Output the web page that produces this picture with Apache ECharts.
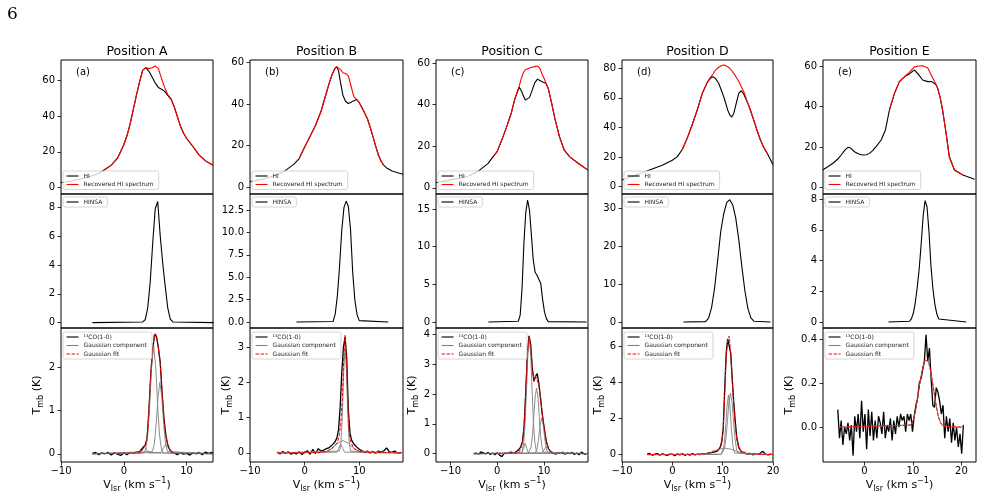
<!DOCTYPE html>
<html>
<head>
<meta charset="utf-8">
<script src="https://cdn.jsdelivr.net/npm/echarts@6/dist/echarts.min.js"></script>
<style>
  html, body { margin: 0; padding: 0; background: #fff; }
  #chart { width: 984px; height: 498px; }
</style>
</head>
<body>
<div id="chart"></div>
<script>
// ---- HI and recovered HI (top row) ----
const vHiA = [-10, -8, -6, -4, -3, -2, -1, 0, 0.5, 1, 1.5, 2, 2.5, 3, 3.5, 4, 4.5, 5, 5.5, 6, 6.5, 7, 7.5, 8, 8.5, 9, 9.5, 10, 11, 12, 13, 14.2];
const hiA = [2.8, 4.0, 5.6, 7.9, 10.2, 12.6, 16.5, 24, 29, 35.5, 43.4, 51.5, 59, 65.5, 67, 65, 61.8, 58.5, 56, 55, 53.8, 51.5, 49.5, 45.5, 40, 34.5, 30.5, 27.5, 23, 18.2, 15, 12.5];
const recA = [null, null, null, null, 10.2, 12.6, 16.5, 24, 29, 35.5, 43.4, 51.5, 59, 65.5, 67, 66.5, 67, 68, 66.5, 61, 56, 52, 49.8, 45.5, 40, 34.5, 30.5, 27.5, 23, 18.2, 15, 12.5];

const vHiB = [-10, -8, -6, -4, -2, -1, 0, 1, 2, 3, 4, 4.5, 5, 5.5, 5.85, 6.2, 6.6, 7, 7.5, 8, 8.5, 9, 9.5, 10, 10.5, 11, 11.5, 12, 12.5, 13, 13.5, 14, 14.5, 15, 16, 17, 18];
const hiB = [2.7, 3.8, 5.2, 7.2, 11.0, 13.8, 19.3, 24.5, 29.8, 36.5, 45.5, 50, 54, 56.8, 57.9, 56, 49.8, 44.2, 41.2, 40.2, 40.8, 41.6, 42.2, 40.6, 38.2, 35.6, 32.8, 28.8, 24.3, 19.8, 15.5, 12.5, 10.5, 9.3, 7.8, 7.0, 6.3];
const recB = [null, null, null, null, null, 13.8, 19.3, 24.5, 29.8, 36.5, 45.5, 50, 54, 56.8, 57.9, 57.2, 56.5, 55, 54.6, 53.5, 48.5, 43.5, 42.2, 40.6, 38.2, 35.6, 32.8, 28.8, 24.3, 19.8, 15.5, 12.5, 10.5, null, null, null, null];

const vHiC = [-13.1, -10, -8, -6, -4, -2, -1, 0, 1, 2, 3, 3.8, 4.7, 5.2, 5.6, 6, 6.4, 6.9, 7.4, 8, 8.6, 9.1, 9.6, 10, 10.4, 10.9, 11.6, 12.3, 13.3, 14.3, 15.5, 17.3, 19.4];
const hiC = [2.4, 3.8, 4.6, 5.8, 8.1, 11.6, 14.6, 17.5, 23.2, 29.3, 36, 43.1, 48.4, 46.5, 44.2, 42.2, 41.8, 43.5, 46.5, 50.5, 52.3, 51.6, 51.0, 50.5, 50.3, 47.8, 41, 33.5, 24.6, 18.2, 14.9, 11.8, 8.5];
const recC = [null, null, null, null, null, null, 14.6, 17.5, 23.2, 29.3, 36, 43.1, 49, 53, 55.5, 56.8, 57.3, 57.7, 58, 58.3, 58.6, 57.6, 54.5, 52.7, 50.5, 47.8, 41, 33.5, 24.6, 18.2, 14.9, 11.8, 8.5];

const vHiD = [-10, -8, -6, -4, -2, 0, 1, 2, 3, 4, 5, 6, 7, 7.6, 8.1, 8.6, 9.2, 9.7, 10.2, 10.6, 11, 11.4, 11.8, 12.2, 12.6, 13.2, 13.7, 14.2, 15, 15.5, 16.2, 16.8, 17.5, 18.1, 19, 20];
const hiD = [4.5, 6.8, 9.3, 11.9, 14.4, 17.8, 20.3, 25.3, 33.1, 42.3, 52.3, 63.5, 70.8, 73.4, 74.3, 73, 69.9, 65.5, 60.8, 56.5, 51.8, 48.5, 47, 49.5, 55, 63.1, 64.8, 62.5, 56.3, 51.8, 44.7, 38.3, 31.5, 27, 21.5, 14.7];
const recD = [null, null, null, null, null, null, null, 25.3, 33.1, 42.3, 52.3, 63.5, 70.8, 74, 76.3, 78.8, 80.7, 81.7, 82.2, 81.8, 81, 80, 78.5, 76.6, 74.5, 71, 67.5, 64.2, 56.3, 51.8, 44.7, 38.3, 31.5, 27, 21.5, null];

const vHiE = [-8.6, -7.5, -6.5, -5.5, -4.8, -4, -3.4, -2.8, -2.06, -1.2, -0.34, 0.4, 1.03, 1.7, 2.4, 3.44, 4.33, 5.15, 6.19, 7.2, 8.45, 9.28, 10.3, 11.2, 12.0, 13.05, 13.9, 14.8, 15.1, 15.6, 16.1, 16.84, 17.5, 18.55, 20.3, 22.7];
const hiE = [8.6, 10.3, 11.9, 14.0, 16.0, 18.5, 19.8, 19.3, 17.6, 16.5, 16.0, 16.1, 16.8, 18.2, 20.1, 23.4, 28.4, 38.3, 46.5, 52.3, 55.1, 56.1, 58.1, 55.6, 53.1, 52.3, 52.3, 50.6, 49, 44.5, 38.3, 26.7, 15.1, 8.6, 6.1, 4.0];
const recE = [null, null, null, null, null, null, null, null, null, null, null, null, null, null, null, null, null, 38.3, 46.5, 52.3, 55.1, 57, 59.6, 60, 60.1, 59, 55, 50.6, 49, 44.5, 38.3, 26.7, 15.1, 8.6, 6.1, null];

// ---- HINSA (middle row) ----
const vHinsaA = [-5, 3.0, 3.4, 3.8, 4.2, 4.6, 5.0, 5.4, 5.8, 6.2, 6.6, 7.0, 7.4, 7.8, 14.3];
const hinsaA = [0, 0.05, 0.2, 1.0, 2.8, 5.5, 7.9, 8.4, 6.0, 4.1, 2.5, 1.0, 0.25, 0.05, 0];
const vHinsaB = [-1.5, 5.2, 5.6, 6.0, 6.4, 6.8, 7.2, 7.6, 8.0, 8.4, 8.8, 9.2, 9.6, 10.0, 15.3];
const hinsaB = [0, 0.05, 0.9, 3.0, 6.3, 10.3, 12.8, 13.5, 12.9, 10.3, 5.5, 2.4, 0.8, 0.15, 0];
const vHinsaC = [-1.9, 4.5, 4.9, 5.3, 5.7, 6.1, 6.5, 6.9, 7.3, 7.7, 8.1, 8.5, 8.9, 9.3, 9.7, 10.1, 10.5, 10.9, 19.1];
const hinsaC = [0, 0.1, 0.9, 4.5, 10.5, 14.6, 16.2, 14.8, 11.5, 8.2, 6.6, 6.2, 6.0, 5.1, 3.0, 1.3, 0.45, 0.05, 0];
const vHinsaD = [2.2, 6.6, 7.2, 7.8, 8.4, 9.0, 9.6, 10.2, 10.8, 11.4, 12.0, 12.6, 13.2, 13.8, 14.4, 15.0, 15.6, 16.2, 19.5];
const hinsaD = [0, 0.1, 1.0, 3.8, 9.0, 16.2, 23.8, 28.6, 31.6, 32.4, 31.0, 27.5, 21.8, 14.8, 8.4, 3.6, 1.1, 0.2, 0];
const vHinsaE = [4.95, 9.3, 9.7, 10.1, 10.5, 10.9, 11.3, 11.7, 12.1, 12.5, 12.9, 13.3, 13.7, 14.1, 14.5, 14.9, 15.3, 21];
const hinsaE = [0, 0.05, 0.22, 0.6, 1.3, 2.3, 3.5, 5.1, 6.9, 7.9, 7.5, 5.9, 3.7, 2.2, 1.2, 0.55, 0.2, 0];

// ---- 13CO(1-0), Gaussian components and fits (bottom row) ----
const vCoA = [-5, -4.5, -4, -3.5, -3, -2.5, -2, -1.5, -1, -0.5, 0, 0.5, 1, 1.5, 2, 2.5, 2.8, 3.1, 3.4, 3.7, 4.0, 4.3, 4.6, 4.9, 5.2, 5.5, 5.8, 6.1, 6.4, 6.7, 7.0, 7.3, 7.6, 8.0, 8.5, 9, 9.5, 10, 10.5, 11, 11.5, 12, 12.5, 13, 13.5, 14, 14.3];
const coA = [0.01, 0.03, -0.02, 0.02, 0.0, 0.03, -0.03, 0.02, -0.01, -0.04, 0.02, -0.02, 0.03, 0.01, 0.04, 0.05, 0.06, 0.15, 0.2, 0.35, 1.0, 1.85, 2.4, 2.75, 2.7, 2.45, 2.1, 1.4, 0.8, 0.42, 0.2, 0.1, 0.05, 0.02, -0.02, 0.02, -0.01, 0.01, -0.03, 0.02, 0.0, 0.03, -0.02, 0.04, 0.01, 0.03, 0.0];
const gA1v = [-5, 3.2, 3.5, 3.8, 4.1, 4.4, 4.75, 5.1, 5.4, 5.7, 6.0, 6.3, 14.3];
const gA1 = [0, 0.02, 0.11, 0.41, 1.07, 1.96, 2.5, 1.96, 1.07, 0.41, 0.11, 0.02, 0];
const gA2v = [-5, 4.55, 4.85, 5.15, 5.45, 5.75, 6.05, 6.35, 6.65, 6.95, 14.3];
const gA2 = [0, 0.05, 0.22, 0.68, 1.32, 1.65, 1.32, 0.68, 0.22, 0.05, 0];
const gA3v = [-5, 2.6, 2.95, 3.3, 3.65, 4.0, 14.3];
const gA3 = [0, 0.02, 0.09, 0.15, 0.09, 0.02, 0];
const gA4v = [-5, 5.9, 6.3, 6.7, 7.1, 7.5, 14.3];
const gA4 = [0, 0.03, 0.13, 0.22, 0.13, 0.03, 0];
const vFitA = [-5, 2.6, 2.95, 3.3, 3.6, 3.9, 4.2, 4.5, 4.85, 5.0, 5.2, 5.5, 5.8, 6.1, 6.4, 6.7, 7.1, 7.5, 8.0, 14.3];
const fitA = [0, 0.02, 0.09, 0.17, 0.25, 0.7, 1.6, 2.3, 2.72, 2.78, 2.72, 2.46, 2.07, 1.4, 0.77, 0.4, 0.15, 0.04, 0.01, 0];

const vCoB = [-5, -4.5, -4, -3.5, -3, -2.5, -2, -1.5, -1, -0.5, 0, 0.5, 1, 1.5, 2, 2.5, 3, 3.5, 4, 4.5, 5, 5.5, 5.9, 6.2, 6.5, 6.8, 7.1, 7.4, 7.7, 8.0, 8.3, 8.6, 9.0, 9.5, 10, 10.5, 11, 11.5, 12, 12.5, 13, 13.5, 14, 14.5, 15, 15.5, 16, 16.5, 17, 17.7];
const coB = [0.02, -0.03, 0.04, -0.02, 0.03, -0.04, 0.0, -0.03, 0.03, -0.05, 0.02, 0.06, -0.04, 0.1, -0.02, 0.12, 0.05, 0.08, 0.12, 0.15, 0.22, 0.3, 0.42, 0.65, 1.3, 2.3, 3.0, 3.3, 2.7, 1.2, 0.55, 0.36, 0.25, 0.17, 0.1, 0.06, 0.03, 0.05, 0.0, 0.04, -0.01, 0.05, 0.02, 0.06, 0.14, 0.03, 0.02, 0.05, -0.01, 0.01];
const gB1v = [-5, 3, 4, 5, 6, 7, 8, 9, 10, 11, 17.7];
const gB1 = [0, 0.006, 0.035, 0.126, 0.27, 0.35, 0.27, 0.126, 0.035, 0.006, 0];
const gB2v = [-5, 6.4, 6.65, 6.9, 7.15, 7.4, 7.65, 7.9, 8.15, 8.4, 17.7];
const gB2 = [0, 0.05, 0.3, 1.08, 2.32, 3.0, 2.32, 1.08, 0.3, 0.05, 0];
const gB3v = [-5, 5.9, 6.25, 6.6, 6.95, 7.3, 17.7];
const gB3 = [0, 0.02, 0.13, 0.25, 0.13, 0.02, 0];
const vFitB = [-5, 3, 4, 5, 5.5, 6, 6.3, 6.6, 6.9, 7.15, 7.4, 7.65, 7.9, 8.15, 8.4, 9, 10, 11, 17.7];
const fitB = [0, 0.01, 0.04, 0.13, 0.2, 0.3, 0.48, 0.81, 1.56, 2.72, 3.34, 2.65, 1.39, 0.59, 0.31, 0.13, 0.04, 0.01, 0];

const vCoC = [-5, -4.5, -4, -3.5, -3, -2.5, -2, -1.5, -1, -0.5, 0, 0.5, 1, 1.5, 2, 2.5, 3, 3.5, 4, 4.5, 5, 5.4, 5.75, 6.1, 6.45, 6.8, 7.15, 7.5, 7.85, 8.2, 8.55, 8.9, 9.25, 9.6, 10, 10.5, 11, 11.5, 12, 12.5, 13, 13.5, 14, 14.5, 15, 15.5, 16, 16.5, 17, 17.5, 18, 18.5, 19];
const coC = [0.0, 0.02, -0.02, 0.06, 0.03, -0.01, 0.04, -0.03, 0.02, -0.04, 0.03, -0.05, -0.1, 0.02, 0.0, 0.03, 0.05, 0.02, 0.06, 0.12, 0.22, 0.4, 0.95, 2.1, 3.4, 3.95, 3.65, 2.85, 2.42, 2.6, 2.68, 2.35, 1.85, 1.35, 0.9, 0.4, 0.15, 0.06, 0.02, -0.02, 0.04, 0.01, 0.05, -0.02, 0.03, 0.0, 0.04, -0.03, 0.02, -0.04, 0.05, 0.0, -0.03];
const gC1v = [-5, 5.05, 5.35, 5.65, 5.95, 6.25, 6.55, 6.85, 7.15, 7.45, 7.75, 8.05, 8.35, 8.65, 19.4];
const gC1 = [0, 0.02, 0.09, 0.36, 1.0, 2.12, 3.32, 3.85, 3.32, 2.12, 1.0, 0.36, 0.09, 0.02, 0];
const gC2v = [-5, 6.6, 6.9, 7.2, 7.5, 7.8, 8.1, 8.4, 8.7, 9.0, 9.3, 9.6, 9.9, 10.2, 19.4];
const gC2 = [0, 0.01, 0.05, 0.2, 0.57, 1.21, 1.9, 2.2, 1.9, 1.21, 0.57, 0.2, 0.05, 0.01, 0];
const gC3v = [-5, 5.25, 5.6, 5.95, 6.3, 6.65, 19.4];
const gC3 = [0, 0.02, 0.18, 0.35, 0.18, 0.02, 0];
const gC4v = [-5, 8.1, 8.45, 8.8, 9.15, 9.5, 9.85, 10.2, 10.55, 10.9, 19.4];
const gC4 = [0, 0.02, 0.13, 0.45, 0.94, 1.2, 0.94, 0.45, 0.13, 0.02, 0];
const gC5v = [-5, 9.3, 9.9, 10.5, 11.1, 11.7, 19.4];
const gC5 = [0, 0.01, 0.1, 0.25, 0.1, 0.01, 0];
const vFitC = [-5, 4.5, 5.0, 5.4, 5.75, 6.1, 6.45, 6.8, 7.15, 7.5, 7.85, 8.2, 8.55, 8.9, 9.25, 9.6, 10.0, 10.5, 11.0, 11.5, 12, 19.4];
const fitC = [0, 0.02, 0.15, 0.4, 0.95, 2.1, 3.35, 3.92, 3.6, 2.85, 2.45, 2.6, 2.62, 2.3, 1.85, 1.35, 0.88, 0.4, 0.14, 0.04, 0.01, 0];

const vCoD = [-5, -4.5, -4, -3.5, -3, -2.5, -2, -1.5, -1, -0.5, 0, 0.5, 1, 1.5, 2, 2.5, 3, 3.5, 4, 4.5, 5, 5.5, 6, 6.5, 7, 7.5, 8, 8.5, 9, 9.5, 9.8, 10.1, 10.4, 10.7, 11, 11.3, 11.6, 11.9, 12.2, 12.5, 12.8, 13.2, 13.6, 14, 14.5, 15, 15.5, 16, 16.5, 17, 17.5, 18, 18.5, 19, 19.5, 20];
const coD = [0.03, 0.06, -0.04, 0.02, 0.05, -0.03, 0.04, 0.0, -0.05, 0.03, 0.02, -0.06, 0.04, -0.02, 0.05, -0.04, 0.02, -0.03, 0.06, -0.02, 0.03, 0.0, 0.05, 0.02, 0.06, 0.1, 0.12, 0.15, 0.2, 0.4, 0.7, 1.4, 3.6, 5.6, 6.4, 6.5, 5.6, 4.2, 2.9, 1.85, 0.95, 0.4, 0.2, 0.1, 0.05, 0.02, 0.06, -0.02, 0.04, 0.01, 0.08, 0.18, 0.03, -0.02, 0.03, 0.0];
const gD1v = [-5, 9.65, 9.95, 10.25, 10.55, 10.85, 11.15, 11.45, 11.75, 12.05, 12.35, 12.65, 20];
const gD1 = [0, 0.01, 0.09, 0.45, 1.35, 2.64, 3.3, 2.64, 1.35, 0.45, 0.09, 0.01, 0];
const gD2v = [-5, 9.75, 10.05, 10.35, 10.65, 10.95, 11.25, 11.55, 11.85, 12.15, 12.45, 12.75, 13.05, 13.35, 20];
const gD2 = [0, 0.02, 0.08, 0.32, 0.88, 1.87, 2.92, 3.4, 2.92, 1.87, 0.88, 0.32, 0.08, 0.02, 0];
const gD3v = [-5, 4.5, 5.5, 6.5, 7.5, 8.5, 9.5, 10.5, 11.5, 12.5, 13.5, 14.5, 15.5, 16.5, 20];
const gD3 = [0, 0.004, 0.015, 0.05, 0.11, 0.21, 0.31, 0.35, 0.31, 0.21, 0.11, 0.05, 0.015, 0.004, 0];
const vFitD = [-5, 5, 7, 8, 8.5, 9, 9.5, 9.8, 10.1, 10.4, 10.7, 11.0, 11.3, 11.6, 11.9, 12.2, 12.5, 12.8, 13.2, 13.6, 14, 15, 17, 20];
const fitD = [0, 0.01, 0.08, 0.17, 0.21, 0.26, 0.35, 0.6, 1.3, 3.3, 5.4, 6.35, 6.55, 5.6, 4.1, 2.7, 1.6, 0.85, 0.35, 0.2, 0.16, 0.08, 0.01, 0];

const vCoE = [-5.5, -5.15, -4.8, -4.45, -4.1, -3.75, -3.4, -3.05, -2.7, -2.35,
  -2.0, -1.65, -1.3, -0.95, -0.6, -0.25, 0.1, 0.45, 0.8, 1.15,
  1.5, 1.85, 2.2, 2.55, 2.9, 3.25, 3.6, 3.95, 4.3, 4.65,
  5.0, 5.35, 5.7, 6.05, 6.4, 6.75, 7.1, 7.45, 7.8, 8.15,
  8.5, 8.85, 9.2, 9.55, 9.9, 10.25, 10.6, 10.95, 11.3, 11.65,
  12.0, 12.35, 12.7, 13.05, 13.4, 13.75, 14.1, 14.45, 14.8, 15.15,
  15.5, 15.85, 16.2, 16.55, 16.9, 17.25, 17.6, 17.95, 18.3, 18.65,
  19.0, 19.35, 19.7, 20.05, 20.4];
const coE = [0.08, -0.05, 0.03, -0.08, 0.0, -0.03, 0.02, -0.06, 0.01, -0.13,
  0.05, -0.02, 0.06, -0.05, 0.12, -0.02, 0.06, -0.1, 0.08, -0.04,
  0.07, -0.06, 0.03, -0.05, 0.05, 0.02, -0.03, 0.07, -0.05, 0.01,
  -0.02, 0.04, -0.06, 0.03, -0.03, 0.05, 0.0, 0.06, 0.03, 0.05,
  -0.02, 0.06, 0.03, 0.06, -0.02, 0.05, 0.1, 0.13, 0.2, 0.22,
  0.26, 0.3, 0.42, 0.3, 0.36, 0.22, 0.1, 0.09, 0.18, 0.16,
  0.12, 0.06, 0.1, -0.05, 0.05, -0.02, 0.04, -0.07, 0.02, -0.06,
  0.0, -0.09, -0.03, -0.12, 0.01];
const vFitE = [-5.5, 9.5, 10, 10.5, 11, 11.5, 12, 12.5, 12.85, 13.2, 13.7, 14.2, 14.7, 15.2, 15.7, 16.2, 20.4];
const fitE = [0, 0.01, 0.03, 0.07, 0.14, 0.21, 0.27, 0.305, 0.31, 0.3, 0.25, 0.18, 0.11, 0.05, 0.02, 0.005, 0];

// ---- tick labels ----
const xTicks = [[-10, 0, 10], [-10, 0, 10], [-10, 0, 10], [-10, 0, 10, 20], [0, 10, 20]];
const yTicks = [
  [[0, 20, 40, 60], [0, 20, 40, 60], [0, 20, 40, 60], [0, 20, 40, 60, 80], [0, 20, 40, 60]],
  [[0, 2, 4, 6, 8], [0, 2.5, 5, 7.5, 10, 12.5], [0, 5, 10, 15], [0, 10, 20, 30], [0, 2, 4, 6, 8]],
  [[0, 1, 2], [0, 1, 2, 3], [0, 1, 2, 3, 4], [0, 2, 4, 6], [0, 0.2, 0.4]]
];
const titles = ['Position A', 'Position B', 'Position C', 'Position D', 'Position E'];
const tags = ['(a)', '(b)', '(c)', '(d)', '(e)'];

// ---- layout ----
const FONT = 'DejaVu Sans';
const colLeft = [61, 250, 436, 622, 823];
const colWidth = [152, 153, 152, 151, 153];
const rowTop = [60, 194, 328];
const rowH = 134;
const xMin = [-10, -10, -13.1, -10, -8.55];
const xMax = [14.2, 18, 19.4, 20, 23.0];
const yMin = [[-3.5, -3.2, -3.0, -5.0, -3.3], [-0.37, -0.67, -0.8, -1.6, -0.39], [-0.19, -0.26, -0.28, -0.41, -0.158]];
const yMax = [[71.3, 61.1, 61.5, 85.6, 63], [8.92, 14.29, 17.0, 33.9, 8.33], [2.9, 3.55, 4.21, 7.0, 0.451]];
const yDec = [[0, 0, 0, 0, 0], [0, 1, 0, 0, 0], [0, 0, 0, 0, 1]];
const yNameGap = [15, 15, 16, 15, 25];
const legendTop = [171, 197, 332];

const hiCols = [[vHiA, hiA, recA], [vHiB, hiB, recB], [vHiC, hiC, recC], [vHiD, hiD, recD], [vHiE, hiE, recE]];
const hinsaCols = [[vHinsaA, hinsaA], [vHinsaB, hinsaB], [vHinsaC, hinsaC], [vHinsaD, hinsaD], [vHinsaE, hinsaE]];
const coCols = [
  { v: vCoA, t: coA, comps: [[gA1v, gA1], [gA2v, gA2], [gA3v, gA3], [gA4v, gA4]], fit: [vFitA, fitA] },
  { v: vCoB, t: coB, comps: [[gB1v, gB1], [gB2v, gB2], [gB3v, gB3]], fit: [vFitB, fitB] },
  { v: vCoC, t: coC, comps: [[gC1v, gC1], [gC2v, gC2], [gC3v, gC3], [gC4v, gC4], [gC5v, gC5]], fit: [vFitC, fitC] },
  { v: vCoD, t: coD, comps: [[gD1v, gD1], [gD2v, gD2], [gD3v, gD3]], fit: [vFitD, fitD] },
  { v: vCoE, t: coE, comps: [[vFitE, fitE]], fit: [vFitE, fitE] }
];

const CO = '\u00b9\u00b3CO(1-0)';
const legendNames = [['HI', 'Recovered HI spectrum'], ['HINSA'], [CO, 'Gaussian component', 'Gaussian fit']];

const option = {
  backgroundColor: '#fff',
  animation: false,
  grid: [], xAxis: [], yAxis: [], legend: [], series: [], graphic: []
};

function xy(xs, ys) {
  return xs.map((x, i) => [x, ys[i] === undefined ? null : ys[i]]);
}

function addLine(p, name, xs, ys, lineStyle, extra) {
  option.series.push(Object.assign({
    type: 'line', name: name, xAxisIndex: p, yAxisIndex: p,
    data: xy(xs, ys), symbol: 'none', showSymbol: false, silent: true,
    animation: false, lineStyle: lineStyle, itemStyle: { color: lineStyle.color },
    emphasis: { disabled: true }
  }, extra || {}));
}

const rich = {
  n: { fontSize: 11, fontFamily: FONT, color: '#000', lineHeight: 16, verticalAlign: 'middle' },
  s: { fontSize: 8, fontFamily: FONT, color: '#000', lineHeight: 8, verticalAlign: 'bottom' },
  p: { fontSize: 8, fontFamily: FONT, color: '#000', lineHeight: 8, verticalAlign: 'top' }
};

for (let r = 0; r < 3; r++) {
  for (let c = 0; c < 5; c++) {
    const p = r * 5 + c;
    const bottom = r === 2;
    option.grid.push({
      left: colLeft[c], top: rowTop[r], width: colWidth[c], height: rowH,
      show: true, borderColor: '#000', borderWidth: 1, backgroundColor: 'transparent'
    });
    option.xAxis.push({
      gridIndex: p, type: 'value', min: xMin[c], max: xMax[c], position: 'bottom',
      axisLine: { show: false, onZero: false }, splitLine: { show: false },
      axisTick: { show: bottom, length: 3.5, customValues: xTicks[c], lineStyle: { color: '#000', width: 0.8 } },
      axisLabel: {
        show: bottom, customValues: xTicks[c], fontSize: 10, fontFamily: FONT, color: '#000', margin: 4,
        formatter: v => String(v).replace('-', '\u2212')
      },
      name: bottom ? '{n|V}{s|lsr}{n| (km s}{p|\u22121}{n|)}' : '',
      nameLocation: 'middle', nameGap: 15,
      nameTextStyle: { rich: rich }
    });
    option.yAxis.push({
      gridIndex: p, type: 'value', min: yMin[r][c], max: yMax[r][c], position: 'left',
      axisLine: { show: false, onZero: false }, splitLine: { show: false },
      axisTick: { show: true, length: 3.5, customValues: yTicks[r][c], lineStyle: { color: '#000', width: 0.8 } },
      axisLabel: {
        customValues: yTicks[r][c], fontSize: 10, fontFamily: FONT, color: '#000', margin: 6,
        formatter: v => Number(v).toFixed(yDec[r][c])
      },
      name: bottom ? '{n|T}{s|mb}{n| (K)}' : '',
      nameLocation: 'middle', nameRotate: 90, nameGap: yNameGap[c],
      nameTextStyle: { rich: rich }
    });
    option.legend.push({
      data: legendNames[r], orient: 'vertical',
      left: colLeft[c] + 2, top: legendTop[r],
      itemWidth: 12, itemHeight: 7, itemGap: 2.5, padding: [2, 5, 2, 3],
      borderColor: '#cccccc', borderWidth: 0.8, borderRadius: 2,
      backgroundColor: 'rgba(255,255,255,0.8)', selectedMode: false,
      itemStyle: { color: 'rgba(0,0,0,0)', borderWidth: 0, opacity: 0 },
      lineStyle: { width: 1.1 },
      textStyle: { fontSize: 6, fontFamily: FONT, color: '#222' }
    });

    if (r === 0) {
      const [v, hi, rec] = hiCols[c];
      addLine(p, 'HI', v, hi, { color: '#000', width: 1.1 });
      addLine(p, 'Recovered HI spectrum', v, rec, { color: '#ff0000', width: 1.1 });
    } else if (r === 1) {
      const [v, h] = hinsaCols[c];
      addLine(p, 'HINSA', v, h, { color: '#000', width: 1.1 });
    } else {
      const d = coCols[c];
      addLine(p, CO, d.v, d.t, { color: '#000', width: 1.3 });
      d.comps.forEach(g => addLine(p, 'Gaussian component', g[0], g[1], { color: '#808080', width: 0.9 }));
      addLine(p, 'Gaussian fit', d.fit[0], d.fit[1], { color: '#ff0000', width: 1, type: [3.5, 1.5] });
    }
  }
}

option.graphic.push({
  type: 'text', x: 7, y: 6,
  style: { text: '6', fontSize: 17, fontFamily: 'DejaVu Serif', fill: '#000' }
});
for (let c = 0; c < 5; c++) {
  option.graphic.push({
    type: 'text', x: colLeft[c] + colWidth[c] / 2, y: 52,
    style: { text: titles[c], fontSize: 12.5, fontFamily: FONT, fill: '#000', textAlign: 'center', textVerticalAlign: 'middle' }
  });
  option.graphic.push({
    type: 'text', x: colLeft[c] + 15, y: 72,
    style: { text: tags[c], fontSize: 10, fontFamily: FONT, fill: '#000', textAlign: 'left', textVerticalAlign: 'middle' }
  });
}

const chart = echarts.init(document.getElementById('chart'), null, { renderer: 'canvas' });
chart.setOption(option);
</script>
</body>
</html>
